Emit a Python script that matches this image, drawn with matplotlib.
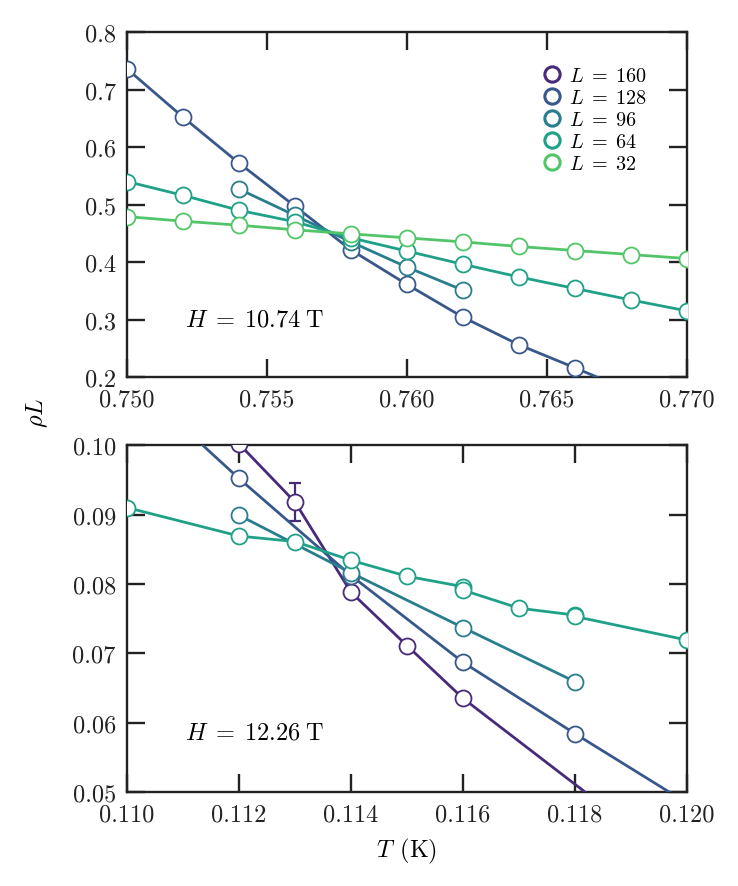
import numpy as np
import matplotlib
matplotlib.use('Agg')
import matplotlib.pyplot as plt
from matplotlib.ticker import FormatStrFormatter, MultipleLocator
from matplotlib.lines import Line2D

plt.rcParams['font.family'] = 'serif'
plt.rcParams['font.serif'] = ['cmr10']
plt.rcParams['mathtext.fontset'] = 'cm'
plt.rcParams['axes.unicode_minus'] = False
plt.rcParams['axes.formatter.use_mathtext'] = True

sizes = [160, 128, 96, 64, 32]
colors = [plt.cm.viridis(v) for v in [0.12, 0.27, 0.42, 0.57, 0.73]]

# H = 10.74 T
T_a_128 = [0.750, 0.752, 0.754, 0.756, 0.758, 0.760, 0.762, 0.764, 0.766, 0.768, 0.770]
rho_a_128 = [0.736, 0.652, 0.572, 0.497, 0.421, 0.361, 0.304, 0.256, 0.216, 0.175, 0.136]
T_a_96 = [0.754, 0.756, 0.758, 0.760, 0.762]
rho_a_96 = [0.527, 0.481, 0.435, 0.391, 0.351]
T_a_64 = [0.750, 0.752, 0.754, 0.756, 0.758, 0.760, 0.762, 0.764, 0.766, 0.768, 0.770]
rho_a_64 = [0.540, 0.516, 0.490, 0.470, 0.442, 0.419, 0.396, 0.374, 0.354, 0.334, 0.315]
T_a_32 = [0.750, 0.752, 0.754, 0.756, 0.758, 0.760, 0.762, 0.764, 0.766, 0.768, 0.770]
rho_a_32 = [0.479, 0.471, 0.464, 0.456, 0.449, 0.442, 0.435, 0.427, 0.420, 0.413, 0.406]

# H = 12.26 T
T_b_160 = [0.112, 0.113, 0.114, 0.115, 0.116, 0.120]
rho_b_160 = [0.1002, 0.0918, 0.0788, 0.0711, 0.0635, 0.0387]
err_b_160 = [0.0, 0.0027, 0.0, 0.0, 0.0, 0.0]
T_b_128 = [0.110, 0.112, 0.114, 0.116, 0.118, 0.120]
rho_b_128 = [0.1100, 0.0952, 0.0812, 0.0687, 0.0584, 0.0484]
T_b_96 = [0.112, 0.114, 0.116, 0.118]
rho_b_96 = [0.0899, 0.0816, 0.0737, 0.0659]
T_b_64 = [0.110, 0.112, 0.113, 0.114, 0.115, 0.116, 0.116, 0.117, 0.118, 0.118, 0.120]
rho_b_64 = [0.0910, 0.0869, 0.0861, 0.0834, 0.0811, 0.0796, 0.0791, 0.0765, 0.0755, 0.0753, 0.0719]

fig = plt.figure(figsize=(7.38, 8.87), dpi=100)
ax1 = fig.add_axes([0.172, 0.5738, 0.759, 0.389])
ax2 = fig.add_axes([0.172, 0.106, 0.759, 0.391])

col = dict(zip(sizes, colors))
mk = dict(marker='o', ms=11.5, mfc='white', mew=1.3, lw=2.0, clip_on=True, zorder=3)

ax1.plot(T_a_128, rho_a_128, color=col[128], mec=col[128], **mk)
ax1.plot(T_a_96, rho_a_96, color=col[96], mec=col[96], **mk)
ax1.plot(T_a_64, rho_a_64, color=col[64], mec=col[64], **mk)
ax1.plot(T_a_32, rho_a_32, color=col[32], mec=col[32], **mk)

ax2.plot(T_b_160, rho_b_160, color=col[160], mec=col[160], **mk)
ax2.errorbar(T_b_160[1:2], rho_b_160[1:2], yerr=err_b_160[1:2], fmt='none',
             ecolor=col[160], elinewidth=1.6, capsize=4.3, capthick=1.6, zorder=2)
ax2.plot(T_b_128, rho_b_128, color=col[128], mec=col[128], **mk)
ax2.plot(T_b_96, rho_b_96, color=col[96], mec=col[96], **mk)
ax2.plot(T_b_64, rho_b_64, color=col[64], mec=col[64], **mk)

ax1.set_xlim(0.750, 0.770)
ax1.set_ylim(0.2, 0.8)
ax1.xaxis.set_major_locator(MultipleLocator(0.005))
ax1.yaxis.set_major_locator(MultipleLocator(0.1))
ax1.xaxis.set_major_formatter(FormatStrFormatter('%.3f'))
ax1.yaxis.set_major_formatter(FormatStrFormatter('%.1f'))

ax2.set_xlim(0.110, 0.120)
ax2.set_ylim(0.05, 0.10)
ax2.xaxis.set_major_locator(MultipleLocator(0.002))
ax2.yaxis.set_major_locator(MultipleLocator(0.01))
ax2.xaxis.set_major_formatter(FormatStrFormatter('%.3f'))
ax2.yaxis.set_major_formatter(FormatStrFormatter('%.2f'))

for ax in (ax1, ax2):
    ax.tick_params(direction='in', top=True, right=True, length=13, width=1.7,
                   labelsize=17.5, pad=8, color='#222222', labelcolor='#222222')
    for s in ax.spines.values():
        s.set_linewidth(1.7)
        s.set_color('#222222')

ax1.text(0.104, 0.168, r'$H\;=\;10.74\;$T', transform=ax1.transAxes,
         fontsize=17.5, va='center', ha='left')
ax2.text(0.104, 0.173, r'$H\;=\;12.26\;$T', transform=ax2.transAxes,
         fontsize=17.5, va='center', ha='left')

handles = [Line2D([], [], ls='none', marker='o', ms=11, mfc='white', mew=2.2,
                  mec=c) for c in colors]
labels = [r'$L\;=\;%d$' % L for L in sizes]
ax1.legend(handles, labels, loc='upper right', bbox_to_anchor=(0.95, 0.935),
           frameon=False, fontsize=14.5, handlelength=0.8, handletextpad=0.45,
           labelspacing=0.2, borderaxespad=0.2)

ax2.set_xlabel(r'$T\;\,$(K)', fontsize=17.5, labelpad=8)
fig.text(0.05, 0.534, r'$\rho L$', rotation=90, fontsize=17.5,
         ha='center', va='center')

fig.savefig('out.png', dpi=100)
